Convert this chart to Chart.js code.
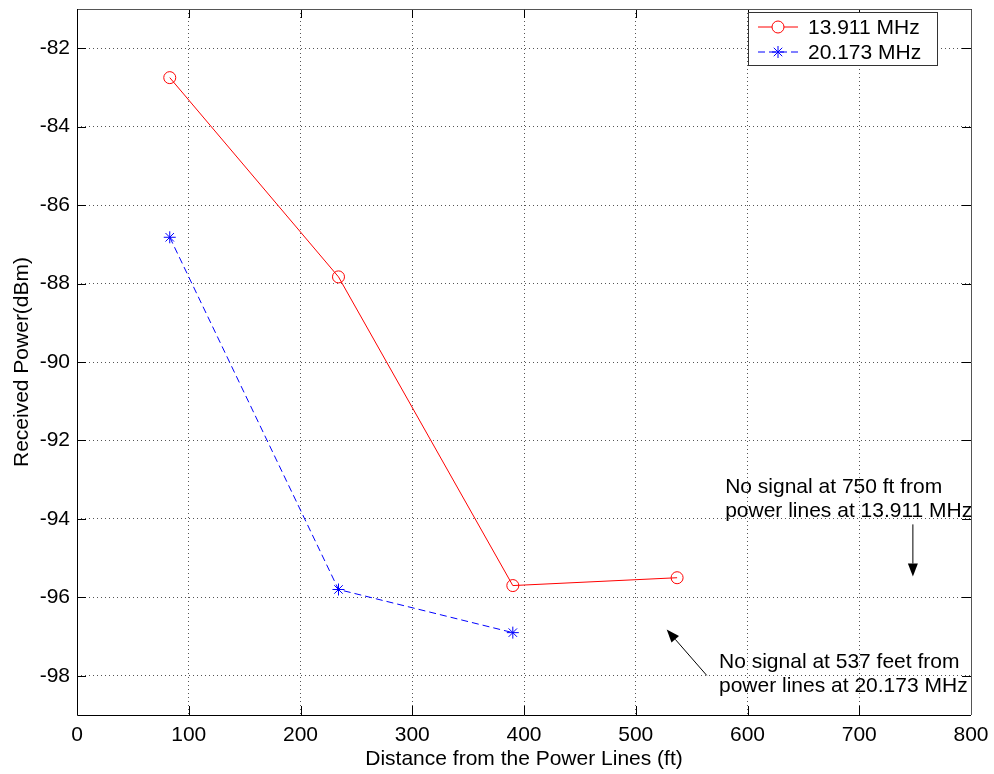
<!DOCTYPE html>
<html lang="en">
<head>
    <meta charset="UTF-8">
    <title>Received Power vs Distance</title>
    <style>
        * { margin: 0; padding: 0; box-sizing: border-box; }
        body { background: #fff; width: 994px; height: 774px; overflow: hidden; }
        canvas { display: block; }
    </style>
</head>
<body>
    <canvas id="powerChart" width="994" height="774"></canvas>

    <script src="https://cdn.jsdelivr.net/npm/chart.js"></script>
    <script>
        // distances (ft) and received power (dBm)
        const distance139 = [83, 234, 390, 537];
        const power139 = [-82.75, -87.83, -95.7, -95.5];
        const distance201 = [83, 234, 390];
        const power201 = [-86.82, -95.8, -96.9];

        const xTicks = [0, 100, 200, 300, 400, 500, 600, 700, 800];
        const yTicks = [-98, -96, -94, -92, -90, -88, -86, -84, -82];

        const seriesNames = ['13.911 MHz', '20.173 MHz'];

        const FONT = '"Liberation Sans", Arial, sans-serif';
        const FSIZE = 21;

        // text notes + arrows (data coordinates)
        const notes = [
            { lines: ['No signal at 750 ft from', 'power lines at 13.911 MHz'], x: 580, y: -93.18,
              arrowFrom: [748, -94.14], arrowTo: [748, -95.47] },
            { lines: ['No signal at 537 feet from', 'power lines at 20.173 MHz'], x: 574.5, y: -97.66,
              arrowFrom: [563.5, -97.99], arrowTo: [527.7, -96.82] }
        ];

        function toXY(arr1, arr2) {
            return arr1.map((v, i) => ({ x: v, y: arr2[i] }));
        }

        function arrow(ctx, x1, y1, x2, y2) {
            const ang = Math.atan2(y2 - y1, x2 - x1);
            const len = 13, wid = 5;
            ctx.beginPath();
            ctx.moveTo(x1, y1);
            ctx.lineTo(x2 - Math.cos(ang) * len, y2 - Math.sin(ang) * len);
            ctx.stroke();
            ctx.beginPath();
            ctx.moveTo(x2, y2);
            ctx.lineTo(x2 - Math.cos(ang) * len + Math.sin(ang) * wid, y2 - Math.sin(ang) * len - Math.cos(ang) * wid);
            ctx.lineTo(x2 - Math.cos(ang) * len - Math.sin(ang) * wid, y2 - Math.sin(ang) * len + Math.cos(ang) * wid);
            ctx.closePath();
            ctx.fill();
        }

        // box, inward ticks, notes and legend (matlab style)
        const matlabDecor = {
            id: 'matlabDecor',
            afterDatasetsDraw(chart) {
                const { ctx, chartArea: a, scales } = chart;
                const xs = scales.x, ys = scales.y;
                ctx.save();

                // inward tick marks on all sides
                ctx.strokeStyle = '#000';
                ctx.lineWidth = 1;
                const tl = 9;
                xTicks.forEach(t => {
                    const px = Math.round(xs.getPixelForValue(t)) + 0.5;
                    ctx.beginPath();
                    ctx.moveTo(px, a.bottom); ctx.lineTo(px, a.bottom - tl);
                    ctx.moveTo(px, a.top); ctx.lineTo(px, a.top + tl);
                    ctx.stroke();
                });
                yTicks.forEach(t => {
                    const py = Math.round(ys.getPixelForValue(t)) + 0.5;
                    ctx.beginPath();
                    ctx.moveTo(a.left, py); ctx.lineTo(a.left + tl, py);
                    ctx.moveTo(a.right, py); ctx.lineTo(a.right - tl, py);
                    ctx.stroke();
                });

                // axes box
                ctx.strokeStyle = '#555';
                ctx.beginPath();
                ctx.moveTo(a.left, a.top + 0.5); ctx.lineTo(a.right + 0.5, a.top + 0.5); ctx.lineTo(a.right + 0.5, a.bottom);
                ctx.stroke();
                ctx.strokeStyle = '#000';
                ctx.beginPath();
                ctx.moveTo(a.left + 0.5, a.top); ctx.lineTo(a.left + 0.5, a.bottom + 0.5); ctx.lineTo(a.right, a.bottom + 0.5);
                ctx.stroke();

                // notes
                ctx.fillStyle = '#000';
                ctx.font = FSIZE + 'px ' + FONT;
                ctx.textAlign = 'left';
                ctx.textBaseline = 'middle';
                notes.forEach(n => {
                    const px = xs.getPixelForValue(n.x), py = ys.getPixelForValue(n.y);
                    n.lines.forEach((l, i) => ctx.fillText(l, px, py + i * 24));
                    arrow(ctx,
                        xs.getPixelForValue(n.arrowFrom[0]), ys.getPixelForValue(n.arrowFrom[1]),
                        xs.getPixelForValue(n.arrowTo[0]), ys.getPixelForValue(n.arrowTo[1]));
                });

                // legend box
                const lx = 748, ly = 12, lw = 189, lh = 53;
                ctx.fillStyle = '#fff';
                ctx.fillRect(lx, ly, lw, lh);
                ctx.strokeStyle = '#333';
                ctx.strokeRect(lx + 0.5, ly + 0.5, lw, lh);
                chart.data.datasets.forEach((ds, i) => {
                    const yy = ly + 15 + i * 25;
                    ctx.strokeStyle = ds.borderColor;
                    ctx.setLineDash(ds.borderDash || []);
                    ctx.beginPath();
                    ctx.moveTo(lx + 10, yy); ctx.lineTo(lx + 50, yy);
                    ctx.stroke();
                    ctx.setLineDash([]);
                    Chart.helpers.drawPoint(ctx, {
                        pointStyle: ds.pointStyle, radius: ds.pointRadius, borderWidth: 1
                    }, lx + 30, yy);
                    ctx.fillStyle = '#000';
                    ctx.fillText(ds.label, lx + 60, yy + 1);
                });

                ctx.restore();
            }
        };

        const ctx = document.getElementById('powerChart').getContext('2d');

        const powerChart = new Chart(ctx, {
            type: 'line',
            data: {
                datasets: [{
                    label: seriesNames[0],
                    data: toXY(distance139, power139),
                    borderColor: '#ff0000',
                    borderWidth: 1,
                    pointStyle: 'circle',
                    pointRadius: 6,
                    pointBorderColor: '#ff0000',
                    pointBackgroundColor: 'rgba(0,0,0,0)',
                    pointBorderWidth: 1,
                    fill: false,
                    tension: 0
                }, {
                    label: seriesNames[1],
                    data: toXY(distance201, power201),
                    borderColor: '#0000ff',
                    borderWidth: 1,
                    borderDash: [7, 4],
                    pointStyle: 'star',
                    pointRadius: 6,
                    pointBorderColor: '#0000ff',
                    pointBackgroundColor: '#0000ff',
                    pointBorderWidth: 1,
                    fill: false,
                    tension: 0
                }]
            },
            options: {
                responsive: false,
                animation: false,
                events: [],
                layout: { padding: { top: 9, right: 23, left: 0, bottom: 0 } },
                plugins: {
                    legend: { display: false },
                    tooltip: { enabled: false }
                },
                scales: {
                    x: {
                        type: 'linear',
                        min: 0, max: 800,
                        afterBuildTicks: s => { s.ticks = xTicks.map(v => ({ value: v })); },
                        afterFit: s => { s.height = 59; s.paddingLeft = 0; s.paddingRight = 0; },
                        grid: { color: '#555', lineWidth: 1, drawTicks: false },
                        border: { display: false, dash: [1, 3] },
                        ticks: { color: '#000', padding: 8, maxRotation: 0, autoSkip: false, font: { family: FONT, size: FSIZE } },
                        title: {
                            display: true, text: 'Distance from the Power Lines (ft)',
                            color: '#000', font: { family: FONT, size: FSIZE },
                            padding: { top: 0, bottom: 2 }
                        }
                    },
                    y: {
                        type: 'linear',
                        min: -99, max: -81,
                        afterBuildTicks: s => { s.ticks = yTicks.map(v => ({ value: v })); },
                        afterFit: s => { s.width = 77; s.paddingTop = 0; s.paddingBottom = 0; },
                        grid: { color: '#555', lineWidth: 1, drawTicks: false },
                        border: { display: false, dash: [1, 3] },
                        ticks: { color: '#000', padding: 7, autoSkip: false, font: { family: FONT, size: FSIZE } },
                        title: {
                            display: true, text: 'Received Power(dBm)',
                            color: '#000', font: { family: FONT, size: FSIZE },
                            padding: { top: 10, bottom: 0 }
                        }
                    }
                }
            },
            plugins: [matlabDecor]
        });
    </script>
</body>
</html>
